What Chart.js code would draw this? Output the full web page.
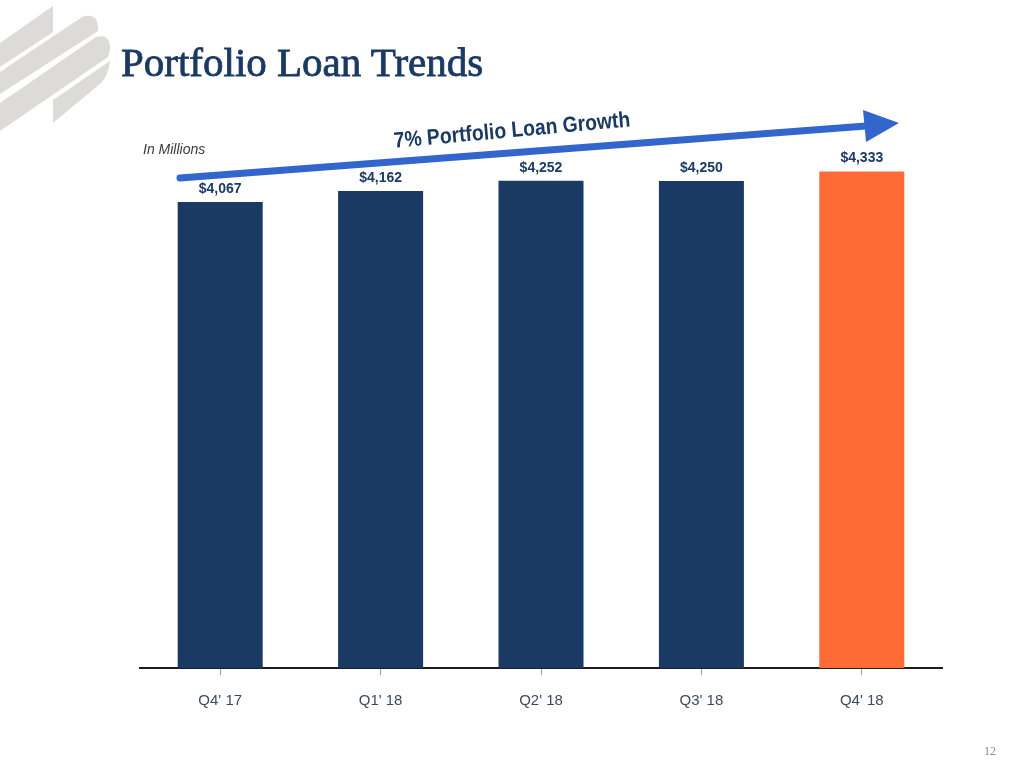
<!DOCTYPE html>
<html>
<head>
<meta charset="utf-8">
<script src="https://cdn.jsdelivr.net/npm/chart.js@4.4.1/dist/chart.umd.min.js"></script>
<style>
  html, body { margin: 0; padding: 0; background: #ffffff; }
  #wrap { position: relative; width: 1024px; height: 768px; overflow: hidden; }
  #c { position: absolute; left: 0; top: 0; }
  #logo { position: absolute; left: 0; top: 0; }
  #title { position: absolute; left: 121px; top: 42px; font-family: "Liberation Serif", "DejaVu Serif", serif; font-size: 41px; color: #1b3a63; white-space: nowrap; line-height: 1; -webkit-text-stroke: 0.8px #1b3a63; }
  #units { position: absolute; left: 143px; top: 142px; font-family: "Liberation Sans", Arial, sans-serif; font-style: italic; font-size: 14px; color: #3a3a3a; white-space: nowrap; line-height: 1; }
  #page { position: absolute; left: 984px; top: 745px; font-family: "Liberation Serif", serif; font-size: 12px; color: #8a8a8a; line-height: 1; }
</style>
</head>
<body>
<div id="wrap">
  <canvas id="c" width="1024" height="768"></canvas>
  <svg id="logo" width="120" height="140" viewBox="0 0 120 140">
    <g fill="#dcdbd7">
      <polygon points="0,43 53,6 53,32 0,67"/>
      <path d="M0,72 L82,17 Q97,12 98,27 L98,31 L0,94 Z"/>
      <path d="M0,103 L96,37 Q111,33 110,50 L108,57 L0,131 Z"/>
      <path d="M53,100 L110,61 Q108,76 101,83 L53,123 Z"/>
    </g>
  </svg>
  <div id="title">Portfolio Loan Trends</div>
  <div id="units">In Millions</div>
  <div id="page">12</div>
</div>
<script>
const categories = ["Q4' 17", "Q1' 18", "Q2' 18", "Q3' 18", "Q4' 18"];
const loanValues = [4067, 4162, 4252, 4250, 4333];
const valueLabels = ["$4,067", "$4,162", "$4,252", "$4,250", "$4,333"];
const arrowText = "7% Portfolio Loan Growth";

const NAVY = '#1b3a63';
const ORANGE = '#ff6b35';
const barColors = loanValues.map((v, i) => i === loanValues.length - 1 ? ORANGE : NAVY);

const overlayPlugin = {
  id: 'overlay',
  afterDatasetsDraw(chart) {
    const ctx = chart.ctx;
    const meta = chart.getDatasetMeta(0);
    ctx.save();
    // value labels
    ctx.font = 'bold 14px "Liberation Sans", Arial, sans-serif';
    ctx.fillStyle = NAVY;
    ctx.textAlign = 'center';
    ctx.textBaseline = 'middle';
    meta.data.forEach((bar, i) => {
      ctx.fillText(valueLabels[i], bar.x, bar.y - 13);
    });
    // growth arrow
    const x0 = 180, y0 = 178, x1 = 866, y1 = 126;
    ctx.strokeStyle = '#3366cc';
    ctx.fillStyle = '#3366cc';
    ctx.lineWidth = 7;
    ctx.lineCap = 'round';
    ctx.beginPath();
    ctx.moveTo(x0, y0);
    ctx.lineTo(x1, y1);
    ctx.stroke();
    ctx.beginPath();
    ctx.moveTo(863, 110);
    ctx.lineTo(899, 123);
    ctx.lineTo(866, 142);
    ctx.closePath();
    ctx.fill();
    // arrow caption (condensed)
    ctx.translate(512, 131);
    ctx.rotate(-5.2 * Math.PI / 180);
    ctx.scale(0.92, 1.05);
    ctx.font = 'bold 21px "Liberation Sans", Arial, sans-serif';
    ctx.fillStyle = NAVY;
    ctx.textAlign = 'center';
    ctx.textBaseline = 'middle';
    ctx.fillText(arrowText, 0, 0);
    ctx.restore();
  }
};

new Chart(document.getElementById('c'), {
  type: 'bar',
  data: {
    labels: categories,
    datasets: [{
      data: loanValues,
      backgroundColor: barColors,
      borderWidth: 0,
      categoryPercentage: 1.0,
      barPercentage: 0.53
    }]
  },
  options: {
    responsive: false,
    animation: false,
    devicePixelRatio: 1,
    layout: { padding: { left: 140, right: 82, top: 150, bottom: 0 } },
    plugins: { legend: { display: false }, tooltip: { enabled: false } },
    scales: {
      y: { display: false, min: 0, max: 4520 },
      x: {
        afterFit(scale) { scale.height = 100; },
        border: { display: true, color: '#1e1e1e', width: 2 },
        grid: { display: true, drawOnChartArea: false, drawTicks: true, tickLength: 7, offset: false, color: '#9a9a9a', lineWidth: 1 },
        ticks: {
          padding: 17,
          color: '#3b4a5e',
          font: { family: '"Liberation Sans", Arial, sans-serif', size: 15 }
        }
      }
    }
  },
  plugins: [overlayPlugin]
});
</script>
</body>
</html>
